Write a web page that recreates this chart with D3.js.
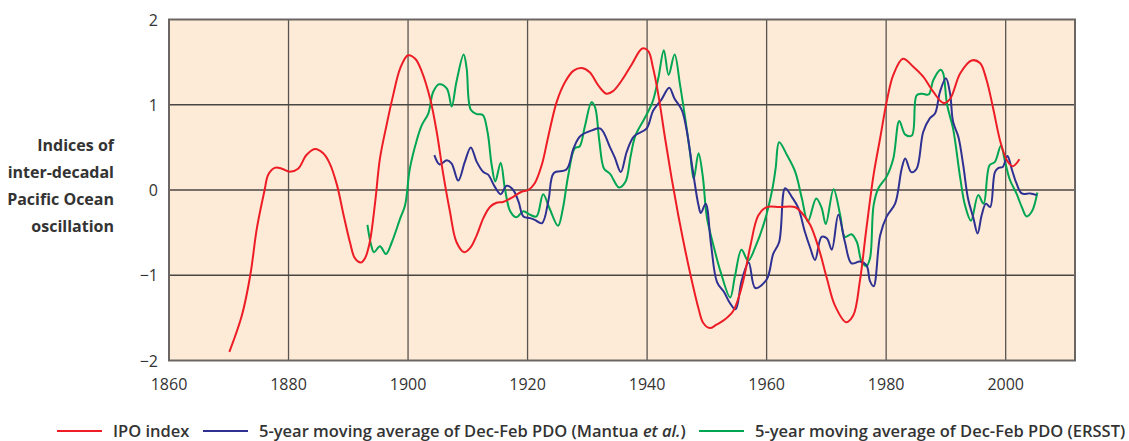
<!DOCTYPE html>
<html>
<head>
<meta charset="utf-8">
<script src="https://cdn.jsdelivr.net/npm/d3@7"></script>
<style>
  body { margin: 0; background: #fff; }
  svg { display: block; font-family: "Open Sans", sans-serif; }
</style>
</head>
<body>
<div id="chart"></div>
<script>
// IPO index
var ipoYears = [1870.1, 1872.2, 1873.6, 1874.7, 1876.0, 1876.6, 1877.7, 1878.9, 1880.2, 1881.6,
    1883.0, 1884.4, 1885.8, 1886.9, 1888.1, 1889.2, 1890.3, 1891.1, 1892.1, 1892.8,
    1893.6, 1894.5, 1895.3, 1896.4, 1897.5, 1898.7, 1900.0, 1901.2, 1902.3, 1903.7,
    1904.8, 1905.9, 1907.0, 1908.1, 1909.4, 1910.4, 1911.5, 1912.6, 1913.7, 1914.8,
    1915.9, 1917.6, 1919.0, 1920.1, 1921.2, 1922.4, 1923.5, 1924.9, 1926.3, 1927.7,
    1929.1, 1930.4, 1931.8, 1933.2, 1934.3, 1935.8, 1937.4, 1939.2, 1940.2, 1941.0,
    1941.9, 1943.0, 1944.1, 1945.2, 1946.3, 1947.5, 1948.6, 1949.4, 1950.5, 1951.6,
    1953.0, 1954.4, 1955.5, 1956.3, 1957.3, 1958.6, 1960.0, 1962.2, 1964.7, 1965.9,
    1967.3, 1968.7, 1970.1, 1971.4, 1973.3, 1974.5, 1975.6, 1976.7, 1977.9, 1979.0,
    1980.1, 1981.2, 1982.8, 1984.5, 1986.2, 1987.9, 1989.6, 1990.7, 1992.4, 1994.3,
    1995.7, 1996.8, 1997.9, 1999.1, 2000.2, 2001.2, 2002.3];
var ipoValues = [-1.90, -1.47, -1.00, -0.45, 0.00, 0.18, 0.26, 0.25, 0.215, 0.25,
    0.41, 0.48, 0.43, 0.31, 0.06, -0.29, -0.62, -0.80, -0.85, -0.80,
    -0.61, -0.14, 0.37, 0.76, 1.11, 1.43, 1.58, 1.54, 1.39, 1.07,
    0.68, 0.18, -0.25, -0.61, -0.73, -0.68, -0.53, -0.33, -0.20, -0.15,
    -0.14, -0.08, -0.02, 0.00, 0.08, 0.30, 0.64, 1.04, 1.27, 1.40,
    1.43, 1.38, 1.23, 1.13, 1.16, 1.29, 1.47, 1.66, 1.63, 1.43,
    1.11, 0.61, 0.14, -0.29, -0.68, -1.07, -1.39, -1.56, -1.62, -1.58,
    -1.52, -1.42, -1.22, -1.00, -0.65, -0.30, -0.20, -0.20, -0.20, -0.27,
    -0.41, -0.68, -1.04, -1.35, -1.55, -1.47, -1.07, -0.45, 0.18, 0.61,
    1.04, 1.35, 1.54, 1.45, 1.33, 1.15, 1.02, 1.07, 1.37, 1.52,
    1.49, 1.29, 0.96, 0.57, 0.35, 0.28, 0.36];

// 5-year moving average of Dec-Feb PDO (Mantua et al.)
var mantuaYears = [1904.4, 1905.3, 1906.5, 1907.3, 1908.4, 1909.5, 1910.5, 1911.5, 1912.6, 1913.4,
    1914.5, 1915.5, 1916.5, 1917.6, 1918.5, 1919.3, 1920.4, 1921.2, 1922.4, 1923.5,
    1924.4, 1926.5, 1927.7, 1928.8, 1930.8, 1932.2, 1933.8, 1934.6, 1935.6, 1936.6,
    1937.8, 1939.9, 1941.0, 1942.4, 1943.7, 1944.6, 1945.8, 1946.6, 1947.6, 1948.6,
    1949.0, 1949.8, 1950.7, 1951.7, 1952.9, 1953.8, 1954.8, 1955.8, 1957.0, 1958.1,
    1960.0, 1961.1, 1962.1, 1963.1, 1964.2, 1965.3, 1966.4, 1967.3, 1968.1, 1969.2,
    1970.1, 1970.9, 1972.0, 1973.1, 1974.2, 1975.6, 1976.7, 1977.3, 1977.9, 1979.0,
    1980.1, 1981.5, 1982.6, 1983.2, 1984.2, 1985.1, 1986.2, 1987.3, 1988.2, 1989.0,
    1990.0, 1990.7, 1991.2, 1992.1, 1992.9, 1993.7, 1994.6, 1995.3, 1996.0, 1996.7,
    1997.4, 1998.2, 1998.8, 1999.5, 2000.3, 2001.0, 2001.8, 2002.7, 2004.1, 2005.2];
var mantuaValues = [0.41, 0.30, 0.35, 0.31, 0.11, 0.33, 0.50, 0.33, 0.21, 0.18,
    0.04, -0.05, 0.05, 0.00, -0.14, -0.31, -0.33, -0.35, -0.39, -0.12,
    0.20, 0.24, 0.49, 0.63, 0.70, 0.72, 0.50, 0.38, 0.21, 0.45,
    0.63, 0.72, 0.93, 1.06, 1.20, 1.07, 0.94, 0.71, 0.25, -0.18,
    -0.27, -0.16, -0.64, -1.08, -1.20, -1.32, -1.40, -1.07, -0.85, -1.15,
    -1.05, -0.75, -0.61, 0.02, -0.08, -0.21, -0.49, -0.68, -0.82, -0.55,
    -0.57, -0.70, -0.29, -0.61, -0.86, -0.84, -0.88, -1.07, -1.13, -0.53,
    -0.31, -0.16, 0.25, 0.37, 0.21, 0.25, 0.68, 0.84, 0.90, 1.15,
    1.31, 1.13, 0.80, 0.62, 0.29, -0.10, -0.33, -0.51, -0.29, -0.16,
    -0.20, 0.21, 0.26, 0.27, 0.40, 0.25, 0.08, -0.04, -0.04, -0.06];

// 5-year moving average of Dec-Feb PDO (ERSST)
var ersstYears = [1893.2, 1893.8, 1894.3, 1895.3, 1896.3, 1897.3, 1898.7, 1899.5, 1900.3, 1901.4,
    1902.3, 1903.4, 1904.2, 1905.2, 1906.5, 1907.3, 1908.1, 1909.3, 1909.8, 1910.5,
    1911.5, 1912.5, 1913.3, 1914.0, 1914.6, 1915.5, 1916.2, 1917.1, 1918.1, 1919.3,
    1920.4, 1921.5, 1922.6, 1923.7, 1925.1, 1925.9, 1926.8, 1927.9, 1928.7, 1929.6,
    1930.7, 1931.3, 1932.0, 1932.8, 1933.8, 1935.3, 1936.4, 1937.2, 1938.0, 1939.5,
    1940.9, 1941.9, 1942.8, 1943.6, 1944.6, 1945.5, 1946.4, 1947.2, 1947.8, 1948.6,
    1949.3, 1950.0, 1951.1, 1952.3, 1953.9, 1954.7, 1955.8, 1956.9, 1958.1, 1959.6,
    1960.9, 1961.5, 1962.1, 1963.4, 1964.8, 1965.9, 1966.9, 1968.3, 1969.2, 1969.9,
    1971.2, 1972.3, 1973.1, 1974.2, 1975.1, 1975.9, 1976.7, 1977.3, 1977.9, 1978.7,
    1980.1, 1981.2, 1982.2, 1983.2, 1984.3, 1985.1, 1986.0, 1987.1, 1987.9, 1989.1,
    1989.5, 1990.2, 1991.2, 1992.4, 1993.2, 1994.2, 1995.4, 1996.3, 1997.3, 1998.2,
    1999.2, 1999.9, 2000.7, 2001.8, 2002.7, 2003.5, 2004.4, 2005.3];
var ersstValues = [-0.41, -0.64, -0.73, -0.66, -0.75, -0.61, -0.33, -0.18, 0.25, 0.57,
    0.76, 0.90, 1.15, 1.24, 1.19, 0.98, 1.27, 1.59, 1.43, 0.94,
    0.89, 0.88, 0.68, 0.29, 0.10, 0.32, 0.02, -0.25, -0.32, -0.25,
    -0.29, -0.31, -0.05, -0.22, -0.42, -0.22, 0.17, 0.49, 0.51, 0.75,
    1.03, 0.97, 0.58, 0.25, 0.19, 0.03, 0.10, 0.38, 0.63, 0.83,
    1.03, 1.32, 1.64, 1.35, 1.59, 1.24, 0.83, 0.43, 0.13, 0.43,
    0.17, -0.32, -0.65, -0.96, -1.26, -1.01, -0.70, -0.83, -0.67, -0.38,
    -0.01, 0.25, 0.56, 0.41, 0.21, -0.10, -0.37, -0.10, -0.21, -0.40,
    0.01, -0.29, -0.55, -0.52, -0.61, -0.84, -0.89, -0.80, -0.18, 0.02,
    0.16, 0.37, 0.81, 0.65, 0.64, 1.11, 1.13, 1.12, 1.29, 1.41,
    1.38, 1.00, 0.72, 0.14, -0.18, -0.36, -0.06, -0.16, 0.29, 0.33,
    0.52, 0.33, 0.12, -0.04, -0.20, -0.31, -0.25, -0.03];

var xTicks = [1860, 1880, 1900, 1920, 1940, 1960, 1980, 2000];
var yTicks = [-2, -1, 0, 1, 2];
var yLabelLines = ['Indices of', 'inter-decadal', 'Pacific Ocean', 'oscillation'];

var series = [
    { name: 'ipo', years: ipoYears, values: ipoValues, color: '#ee1c25' },
    { name: 'mantua', years: mantuaYears, values: mantuaValues, color: '#2e3192' },
    { name: 'ersst', years: ersstYears, values: ersstValues, color: '#00a651' }
];

var width = 1129,
    height = 441,
    plot = { left: 169, right: 1075, top: 19.5, bottom: 360.5 };

var svg = d3.select('#chart')
    .append('svg')
    .attr('width', width)
    .attr('height', height);

var x = d3.scaleLinear().domain([1860, 2011.6]).range([plot.left, plot.right]);
var y = d3.scaleLinear().domain([-2, 2]).range([plot.bottom, plot.top]);

// background
svg.append('rect')
    .attr('x', plot.left)
    .attr('y', plot.top)
    .attr('width', plot.right - plot.left)
    .attr('height', plot.bottom - plot.top)
    .attr('fill', '#fdebd7');

// grid
svg.append('g')
    .selectAll('line')
    .data(xTicks.slice(1))
    .enter()
    .append('line')
    .attr('x1', function(d) { return x(d); })
    .attr('x2', function(d) { return x(d); })
    .attr('y1', plot.top)
    .attr('y2', plot.bottom)
    .attr('stroke', '#5a5450')
    .attr('stroke-width', 1.3);

svg.append('g')
    .selectAll('line')
    .data(yTicks.slice(1, -1))
    .enter()
    .append('line')
    .attr('x1', plot.left)
    .attr('x2', plot.right)
    .attr('y1', function(d) { return y(d); })
    .attr('y2', function(d) { return y(d); })
    .attr('stroke', '#4a4643')
    .attr('stroke-width', 1.3);

// frame
svg.append('rect')
    .attr('x', plot.left)
    .attr('y', plot.top)
    .attr('width', plot.right - plot.left)
    .attr('height', plot.bottom - plot.top)
    .attr('fill', 'none')
    .attr('stroke', '#6b6663')
    .attr('stroke-width', 2);

// tick labels
svg.append('g')
    .selectAll('text')
    .data(xTicks)
    .enter()
    .append('text')
    .attr('x', function(d) { return x(d); })
    .attr('y', 390)
    .attr('text-anchor', 'middle')
    .attr('font-size', 16)
    .attr('fill', '#333')
    .text(function(d) { return d; });

svg.append('g')
    .selectAll('text')
    .data(yTicks)
    .enter()
    .append('text')
    .attr('x', 158)
    .attr('y', function(d) { return y(d) + 6; })
    .attr('text-anchor', 'end')
    .attr('font-size', 16)
    .attr('fill', '#333')
    .text(function(d) { return d < 0 ? '\u2212' + Math.abs(d) : d; });

// y label
svg.append('text')
    .attr('text-anchor', 'end')
    .attr('font-size', 16)
    .attr('font-weight', 'bold')
    .attr('fill', '#333')
    .selectAll('tspan')
    .data(yLabelLines)
    .enter()
    .append('tspan')
    .attr('x', 114)
    .attr('y', function(d, i) { return 151 + i * 27; })
    .text(function(d) { return d; });

// lines
var line = d3.line()
    .x(function(d) { return x(d[0]); })
    .y(function(d) { return y(d[1]); })
    .curve(d3.curveCatmullRom.alpha(0.5));

svg.append('g')
    .selectAll('path')
    .data(series.slice().reverse())
    .enter()
    .append('path')
    .attr('d', function(s) { return line(d3.zip(s.years, s.values)); })
    .attr('fill', 'none')
    .attr('stroke', function(s) { return s.color; })
    .attr('stroke-width', 2);

// legend
var legend = [
    { x: 57, color: '#ee1c25', parts: [['IPO index', 'normal']] },
    { x: 203, color: '#2e3192', parts: [['5-year moving average of Dec-Feb PDO (Mantua ', 'normal'], ['et al.', 'italic'], [')', 'normal']] },
    { x: 699, color: '#00a651', parts: [['5-year moving average of Dec-Feb PDO (ERSST)', 'normal']] }
];

var lg = svg.append('g');
legend.forEach(function(item) {
    lg.append('line')
        .attr('x1', item.x)
        .attr('x2', item.x + 45)
        .attr('y1', 431)
        .attr('y2', 431)
        .attr('stroke', item.color)
        .attr('stroke-width', 2);
    var t = lg.append('text')
        .attr('x', item.x + 56)
        .attr('y', 437)
        .attr('font-size', 16.5)
        .attr('font-weight', 600)
        .attr('fill', '#333');
    item.parts.forEach(function(p) {
        t.append('tspan')
            .attr('font-style', p[1])
            .text(p[0]);
    });
});
</script>
</body>
</html>
